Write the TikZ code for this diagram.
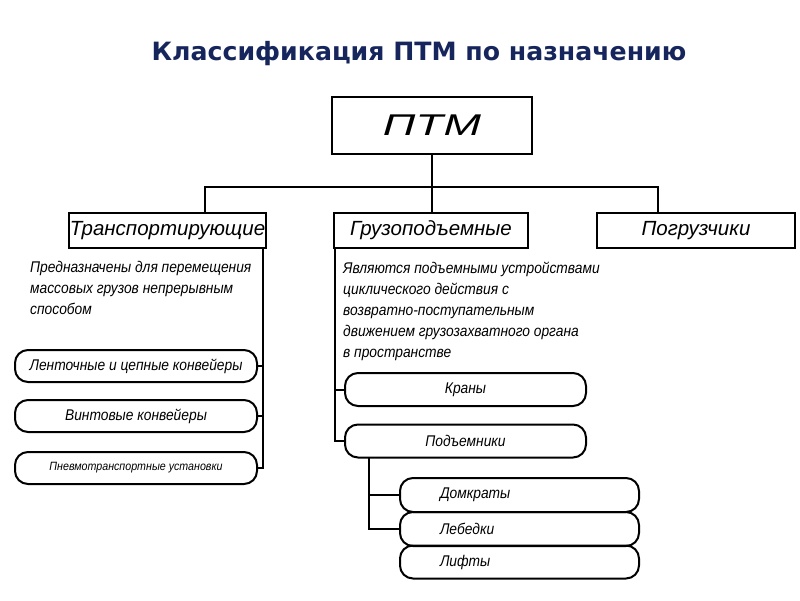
\documentclass[tikz,border=0pt]{standalone}
\usepackage{fontspec}
\usepackage{graphicx}
\setmainfont{Liberation Sans}
\newfontfamily\gost{Liberation Sans}
\newfontfamily\gostn{Liberation Sans}[FakeStretch=0.89]
\newfontfamily\ttlfont{DejaVu Sans}
\definecolor{navy}{RGB}{22,38,92}
\begin{document}
\begin{tikzpicture}[x=1pt,y=-1pt,
  conn/.style={line width=2pt},
  hbox/.style={draw, line width=2pt, inner sep=0pt,
    font=\gost\itshape\fontsize{20.5}{22}\selectfont},
  item/.style={draw, line width=2pt, rounded corners=13pt, inner sep=0pt,
    font=\gostn\itshape\fontsize{15.5}{17}\selectfont},
  desc/.style={anchor=north west, inner sep=0pt, align=left,
    font=\gostn\itshape\fontsize{15.5}{21}\selectfont}]
\useasboundingbox (0,0) rectangle (800,600);
\fill[white] (0,0) rectangle (800,600);

% title
\node[anchor=base, inner sep=0pt, text=navy, font=\ttlfont\bfseries\fontsize{25.2}{27}\selectfont] (title) at (419,60) {Классификация ПТМ по назначению};

% root
\node[draw, line width=2pt, inner sep=0pt, minimum width=200pt, minimum height=57pt] (ptm) at (432,125.5)
  {\scalebox{1.5}[1]{\gost\itshape\fontsize{30}{30}\selectfont ПТМ}};

% level 1
\node[hbox, minimum width=197pt, minimum height=35pt] (trans) at (167.5,230.5) {Транспортирующие};
\node[hbox, minimum width=194pt, minimum height=35pt] (gruz) at (431,230.5) {Грузоподъемные};
\node[hbox, minimum width=198pt, minimum height=35pt] (pogr) at (696,230.5) {Погрузчики};

\coordinate (bus) at (432,187);
\coordinate (tdrop) at (205,213);
\coordinate (pdrop) at (658,213);
\draw[conn] (ptm.south) -- (ptm.south|-gruz.north);
\draw[conn] (tdrop) -- (tdrop|-bus) -- (pdrop|-bus) -- (pdrop);

% descriptions
\node[desc] (d1) at (30,261) {Предназначены для перемещения\\массовых грузов непрерывным\\способом};
\node[desc] (d2) at (343,262) {Являются подъемными устройствами\\циклического действия с\\возвратно-поступательным\\движением грузозахватного органа\\в пространстве};

% transport items
\node[item, minimum width=242pt, minimum height=32pt] (lent) at (136,366) {Ленточные и цепные конвейеры};
\node[item, minimum width=242pt, minimum height=32pt] (vint) at (136,416) {Винтовые конвейеры};
\node[item, minimum width=242pt, minimum height=32pt, font=\gostn\itshape\fontsize{12}{14}\selectfont] (pnev) at (136,468) {Пневмотранспортные установки};

\coordinate (tl) at (263,248);
\draw[conn] (tl) |- (lent.east);
\draw[conn] (tl) |- (vint.east);
\draw[conn] (tl) |- (pnev.east);

% lifting items
\node[item, minimum width=241pt, minimum height=33pt] (kran) at (465.5,389.5) {Краны};
\node[item, minimum width=241pt, minimum height=33pt] (podem) at (465.5,441) {Подъемники};

\coordinate (gl) at (335,248);
\draw[conn] (gl) |- (kran.west);
\draw[conn] (gl) |- (podem.west);

\node[item, minimum width=239pt, minimum height=34pt, text width=159pt, inner xsep=40pt, align=left] (domk) at (519.5,495) {Домкраты};
\node[item, minimum width=239pt, minimum height=34pt, text width=159pt, inner xsep=40pt, align=left] (lebed) at (519.5,529) {Лебедки};
\node[item, minimum width=239pt, minimum height=33pt, text width=159pt, inner xsep=40pt, align=left] (lift) at (519.5,562) {Лифты};

\coordinate (pl) at (369,457.5);
\draw[conn] (pl) |- (domk.west);
\draw[conn] (pl) |- (lebed.west);
\end{tikzpicture}
\end{document}
